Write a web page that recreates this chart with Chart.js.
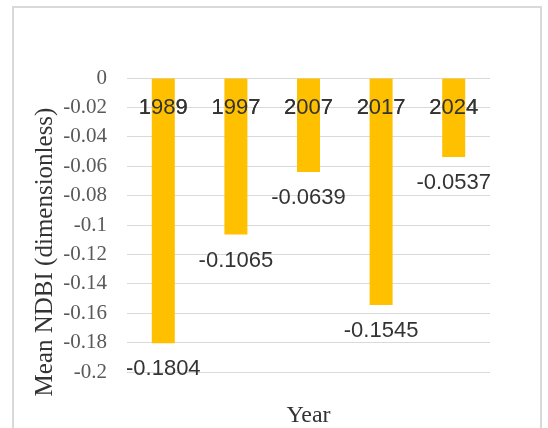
<!DOCTYPE html>
<html>
<head>
<meta charset="utf-8">
<script src="https://cdn.jsdelivr.net/npm/chart.js@4/dist/chart.umd.min.js"></script>
<style>
  html, body { margin: 0; padding: 0; background: #ffffff; }
  #wrap { width: 548px; height: 428px; }
</style>
</head>
<body>
<div id="wrap"><canvas id="chart" width="548" height="428"></canvas></div>
<script>
// Mean NDBI per survey year
const years = ['1989', '1997', '2007', '2017', '2024'];
const meanNdbi = [-0.1804, -0.1065, -0.0639, -0.1545, -0.0537];

// value axis range and step
const yMin = -0.2;
const yMax = 0;
const yStep = 0.02;

const xTitle = 'Year';
const yTitle = 'Mean NDBI (dimensionless)';

const barColor = '#FFC000';
const textColor = '#333333';
const tickColor = '#595959';
const gridColor = '#d9d9d9';

// light frame around the whole chart
const framePlugin = {
  id: 'frame',
  beforeDraw(chart) {
    const ctx = chart.ctx;
    ctx.save();
    ctx.fillStyle = '#ffffff';
    ctx.fillRect(0, 0, chart.width, chart.height);
    ctx.strokeStyle = gridColor;
    ctx.lineWidth = 2;
    ctx.strokeRect(13, 7, 528, 440);
    ctx.restore();
  }
};

// year labels sit on top of the bars, value labels under each bar end,
// and the vertical axis title
const labelPlugin = {
  id: 'valueLabels',
  afterDatasetsDraw(chart) {
    const ctx = chart.ctx;
    chart.scales.x.drawLabels(chart.chartArea);

    const meta = chart.getDatasetMeta(0);
    ctx.save();
    ctx.font = '22px "Liberation Sans", Arial, sans-serif';
    ctx.fillStyle = textColor;
    ctx.textAlign = 'center';
    ctx.textBaseline = 'middle';
    meta.data.forEach((bar, i) => {
      ctx.fillText(String(meanNdbi[i]), bar.x, bar.y + 26);
    });
    ctx.restore();

    const area = chart.chartArea;
    ctx.save();
    ctx.font = '25px "Liberation Serif", "Times New Roman", serif';
    ctx.fillStyle = textColor;
    ctx.textAlign = 'center';
    ctx.textBaseline = 'middle';
    ctx.translate(area.left - 82, (area.top + area.bottom) / 2 + 27);
    ctx.rotate(-Math.PI / 2);
    ctx.fillText(yTitle, 0, 0);
    ctx.restore();
  }
};

new Chart(document.getElementById('chart'), {
  type: 'bar',
  data: {
    labels: years,
    datasets: [{
      data: meanNdbi,
      backgroundColor: barColor,
      borderWidth: 0,
      categoryPercentage: 1,
      barPercentage: 0.317
    }]
  },
  options: {
    responsive: false,
    animation: false,
    devicePixelRatio: 1,
    layout: { padding: { top: 78, right: 58, left: 0, bottom: 0 } },
    plugins: {
      legend: { display: false },
      tooltip: { enabled: false }
    },
    scales: {
      x: {
        type: 'category',
        position: { y: 0 },
        grid: { display: false, drawTicks: false },
        border: { display: false },
        ticks: {
          color: textColor,
          padding: 17,
          font: { family: '"Liberation Sans", Arial, sans-serif', size: 22 }
        }
      },
      xTitle: {
        type: 'category',
        position: 'bottom',
        grid: { display: false, drawTicks: false },
        border: { display: false },
        ticks: { display: false },
        title: {
          display: true,
          text: xTitle,
          color: textColor,
          padding: { top: 0, bottom: 0 },
          font: { family: '"Liberation Serif", "Times New Roman", serif', size: 24, lineHeight: 1 }
        },
        afterFit(scale) { scale.height = 56; }
      },
      y: {
        position: 'left',
        min: yMin,
        max: yMax,
        grid: { color: gridColor, lineWidth: 1, drawTicks: false },
        border: { display: false },
        ticks: {
          stepSize: yStep,
          padding: 20,
          color: tickColor,
          font: { family: '"Liberation Serif", "Times New Roman", serif', size: 21 },
          callback: (v) => String(+Number(v).toFixed(2))
        },
        afterFit(scale) { scale.width = 127; }
      }
    }
  },
  plugins: [framePlugin, labelPlugin]
});
</script>
</body>
</html>
